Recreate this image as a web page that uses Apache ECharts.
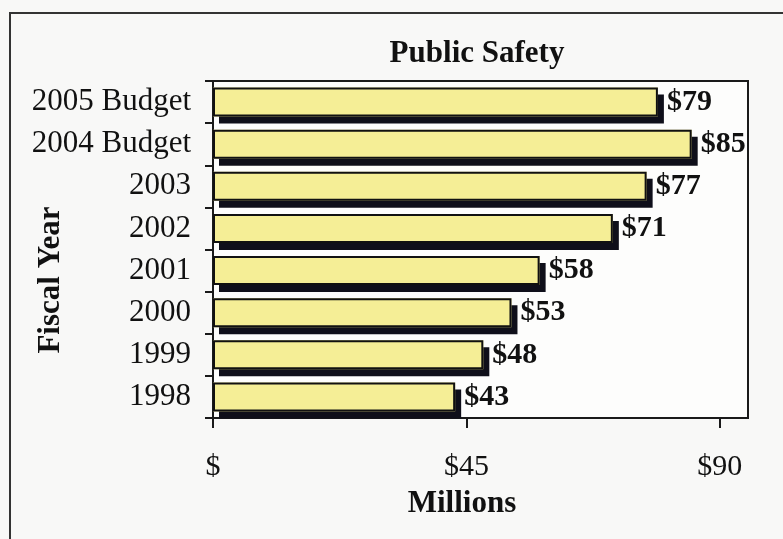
<!DOCTYPE html>
<html>
<head>
<meta charset="utf-8">
<title>Public Safety</title>
<script src="https://cdn.jsdelivr.net/npm/echarts@6/dist/echarts.min.js"></script>
<style>
  html, body { margin: 0; padding: 0; background: #f8f8f7; }
  #chart { width: 783px; height: 539px; }
</style>
</head>
<body>
<div id="chart"></div>
<script>
// Fiscal years, bottom to top
const fiscalYears = ['1998', '1999', '2000', '2001', '2002', '2003', '2004 Budget', '2005 Budget'];
// Public safety spending, millions of dollars
const spending = [43, 48, 53, 58, 71, 77, 85, 79];
// Value-axis ticks
const tickValues = [0, 45, 90];

const serif = '"Liberation Serif", "Times New Roman", serif';
const ink = '#111';

const chart = echarts.init(document.getElementById('chart'), null, { renderer: 'canvas' });

chart.setOption({
  backgroundColor: '#f8f8f7',
  animation: false,
  title: {
    text: 'Public Safety',
    left: 472,
    top: 33,
    textAlign: 'center',
    textStyle: { fontFamily: serif, fontWeight: 'bold', fontSize: 31, color: ink }
  },
  graphic: [
    {
      // outer frame around the whole figure
      type: 'rect',
      shape: { x: 10, y: 13, width: 820, height: 580 },
      style: { fill: 'none', stroke: '#333', lineWidth: 2 },
      silent: true
    },
    {
      type: 'text',
      x: 51,
      y: 280,
      rotation: Math.PI / 2,
      style: {
        text: 'Fiscal Year',
        fontFamily: serif, fontWeight: 'bold', fontSize: 31, fill: ink,
        align: 'center', verticalAlign: 'middle'
      },
      silent: true
    },
    {
      type: 'text',
      x: 462,
      y: 504,
      style: {
        text: 'Millions',
        fontFamily: serif, fontWeight: 'bold', fontSize: 31, fill: ink,
        align: 'center', verticalAlign: 'middle'
      },
      silent: true
    }
  ],
  grid: {
    left: 213, top: 81, right: 35, bottom: 121,
    show: true,
    backgroundColor: '#fdfdfc',
    borderColor: '#1a1a1a',
    borderWidth: 2
  },
  xAxis: {
    type: 'value',
    min: 0,
    max: 95,
    interval: 45,
    axisLine: { show: true, lineStyle: { color: '#1a1a1a', width: 2 } },
    axisTick: { show: true, length: 10, lineStyle: { color: '#1a1a1a', width: 2 }, customValues: tickValues },
    axisLabel: {
      customValues: tickValues,
      margin: 34,
      fontFamily: serif,
      fontSize: 30,
      color: ink,
      formatter: v => (v === 0 ? '$' : '$' + v)
    },
    splitLine: { show: false }
  },
  yAxis: {
    type: 'category',
    data: fiscalYears,
    axisLine: { show: true, lineStyle: { color: '#1a1a1a', width: 2 } },
    axisTick: { show: true, length: 8, lineStyle: { color: '#1a1a1a', width: 2 } },
    axisLabel: { margin: 22, fontFamily: serif, fontSize: 31, color: ink }
  },
  series: [
    {
      // yellow bar body with its drop shadow
      type: 'bar',
      data: spending,
      barCategoryGap: '31%',
      barGap: '-100%',
      itemStyle: {
        color: '#f5ee96',
        borderWidth: 0,
        shadowColor: '#0f0f1a',
        shadowBlur: 0,
        shadowOffsetX: 6,
        shadowOffsetY: 7
      },
      z: 2
    },
    {
      // black outline and value labels drawn over the body
      type: 'bar',
      data: spending,
      barCategoryGap: '31%',
      barGap: '-100%',
      itemStyle: {
        color: 'rgba(0,0,0,0)',
        borderColor: ink,
        borderWidth: 2
      },
      label: {
        show: true,
        position: 'right',
        distance: 9,
        formatter: p => '$' + p.value,
        fontFamily: serif,
        fontWeight: 'bold',
        fontSize: 30,
        color: ink
      },
      z: 3
    }
  ]
});
</script>
</body>
</html>
